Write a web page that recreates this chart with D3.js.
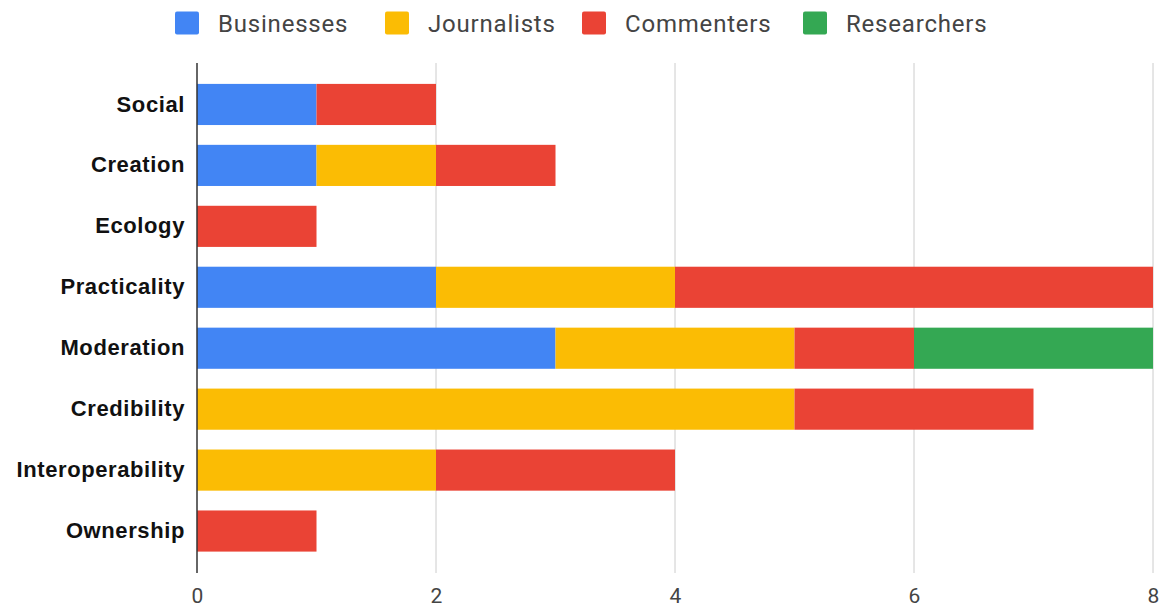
<!DOCTYPE html>
<html>
<head>
<meta charset="utf-8">
<script src="https://cdn.jsdelivr.net/npm/d3@7"></script>
<style>
  body { margin: 0; background: #fff; }
</style>
</head>
<body>
<svg id="chart" width="1164" height="609"></svg>
<script>
const categories = ['Social', 'Creation', 'Ecology', 'Practicality', 'Moderation', 'Credibility', 'Interoperability', 'Ownership'];
const seriesNames = ['Businesses', 'Journalists', 'Commenters', 'Researchers'];
const businesses = [1, 1, 0, 2, 3, 0, 0, 0];
const journalists = [0, 1, 0, 2, 2, 5, 2, 0];
const commenters = [1, 1, 1, 4, 1, 2, 2, 1];
const researchers = [0, 0, 0, 0, 2, 0, 0, 0];
const xTicks = [0, 2, 4, 6, 8];
const colors = ['#4285f4', '#fbbc04', '#ea4335', '#34a853'];

const rows = categories.map((c, i) => ({
    cat: c,
    Businesses: businesses[i],
    Journalists: journalists[i],
    Commenters: commenters[i],
    Researchers: researchers[i]
}));

const svg = d3.select('#chart');
const plotTop = 63, plotBottom = 573;

let xScale = d3.scaleLinear()
    .domain([0, 8])
    .range([197, 1153]);

let yScale = d3.scaleBand()
    .domain(categories)
    .range([74, 561.5])
    .paddingInner(0.325)
    .paddingOuter(0.1625);

// gridlines
svg.append('g').selectAll('line')
    .data(xTicks.filter(d => d > 0))
    .enter()
    .append('line')
        .attr('x1', d => xScale(d))
        .attr('x2', d => xScale(d))
        .attr('y1', plotTop)
        .attr('y2', plotBottom)
        .style('stroke', '#cccccc')
        .style('stroke-width', 1);

let stacked = d3.stack().keys(seriesNames)(rows);

svg.append('g').selectAll('g')
    .data(stacked)
    .enter()
    .append('g')
        .attr('fill', (d, i) => colors[i])
    .selectAll('rect')
    .data(d => d.filter(s => s[1] > s[0]))
    .enter()
    .append('rect')
        .attr('x', d => xScale(d[0]))
        .attr('width', d => xScale(d[1]) - xScale(d[0]))
        .attr('y', d => yScale(d.data.cat))
        .attr('height', yScale.bandwidth());

// zero baseline
svg.append('line')
    .attr('x1', xScale(0))
    .attr('x2', xScale(0))
    .attr('y1', plotTop)
    .attr('y2', plotBottom)
    .style('stroke', '#333333')
    .style('stroke-width', 1.5);

// x tick labels
let xAxis = d3.axisBottom(xScale).tickValues(xTicks).tickSize(0);
let gx = svg.append('g')
    .call(xAxis);
gx.select('.domain').remove();
gx.selectAll('text')
    .attr('y', 603)
    .attr('dy', null)
    .attr('font-family', 'Roboto, Arial, sans-serif')
    .attr('font-size', 21)
    .attr('fill', '#444444');

// category labels
let yAxis = d3.axisLeft(yScale).tickSize(0).tickPadding(12);
let gy = svg.append('g')
    .attr('transform', `translate(${xScale(0)}, 0)`)
    .call(yAxis);
gy.select('.domain').remove();
gy.selectAll('text')
    .attr('font-family', '"Liberation Sans", Arial, sans-serif')
    .attr('font-weight', 'bold')
    .attr('font-size', 22)
    .attr('letter-spacing', 0.6)
    .attr('fill', '#111111');

// legend
const legendX = [175, 385, 582, 803];
let legend = svg.append('g').selectAll('g')
    .data(seriesNames)
    .enter()
    .append('g')
        .attr('transform', (d, i) => `translate(${legendX[i]}, 11.5)`);

legend.append('rect')
    .attr('width', 24)
    .attr('height', 23)
    .attr('rx', 2)
    .attr('fill', (d, i) => colors[i]);

legend.append('text')
    .attr('x', 43)
    .attr('y', 20)
    .attr('font-family', 'Roboto, Arial, sans-serif')
    .attr('font-size', 24)
    .attr('letter-spacing', 0.8)
    .attr('fill', '#444444')
    .text(d => d);
</script>
</body>
</html>
